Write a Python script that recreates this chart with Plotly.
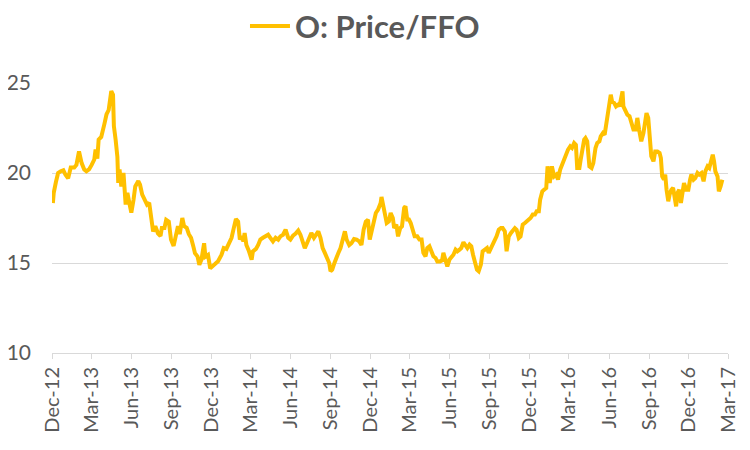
import plotly.graph_objects as go

# O: Price/FFO
dates = [
    "2012-12-03", "2012-12-05", "2012-12-10", "2012-12-15", "2012-12-21", "2012-12-27",
    "2013-01-01", "2013-01-07", "2013-01-13", "2013-01-21", "2013-01-26", "2013-02-01",
    "2013-02-07", "2013-02-13", "2013-02-18", "2013-02-24", "2013-03-02", "2013-03-08",
    "2013-03-11", "2013-03-15", "2013-03-18", "2013-03-24", "2013-03-31", "2013-04-05",
    "2013-04-10", "2013-04-13", "2013-04-16", "2013-04-20", "2013-04-22", "2013-04-26",
    "2013-04-30", "2013-05-02", "2013-05-05", "2013-05-09", "2013-05-14", "2013-05-19",
    "2013-05-23", "2013-05-29", "2013-06-01", "2013-06-06", "2013-06-10", "2013-06-17",
    "2013-06-21", "2013-06-26", "2013-07-02", "2013-07-07", "2013-07-12", "2013-07-16",
    "2013-07-21", "2013-07-26", "2013-08-01", "2013-08-07", "2013-08-10", "2013-08-16",
    "2013-08-20", "2013-08-26", "2013-08-31", "2013-09-06", "2013-09-10", "2013-09-16",
    "2013-09-20", "2013-09-26", "2013-09-30", "2013-10-06", "2013-10-11", "2013-10-16",
    "2013-10-21", "2013-10-25", "2013-10-31", "2013-11-04", "2013-11-09", "2013-11-15",
    "2013-11-18", "2013-11-24", "2013-11-29",
    "2013-12-03", "2013-12-10", "2013-12-17", "2013-12-25", "2013-12-30", "2014-01-05",
    "2014-01-11", "2014-01-17", "2014-01-22", "2014-01-27", "2014-02-01", "2014-02-05",
    "2014-02-09", "2014-02-13", "2014-02-16", "2014-02-20", "2014-02-26", "2014-03-04",
    "2014-03-07", "2014-03-14", "2014-03-19", "2014-03-24", "2014-03-30", "2014-04-06",
    "2014-04-11", "2014-04-16", "2014-04-22", "2014-04-28", "2014-05-04", "2014-05-09",
    "2014-05-15", "2014-05-21", "2014-05-27", "2014-06-01", "2014-06-07", "2014-06-13",
    "2014-06-19", "2014-06-24", "2014-06-29", "2014-07-04", "2014-07-09", "2014-07-14",
    "2014-07-19", "2014-07-25", "2014-07-29", "2014-08-04", "2014-08-09", "2014-08-14",
    "2014-08-19", "2014-08-25", "2014-08-29", "2014-09-01", "2014-09-05", "2014-09-10",
    "2014-09-15", "2014-09-19", "2014-09-24", "2014-09-28", "2014-10-04", "2014-10-08",
    "2014-10-14", "2014-10-19", "2014-10-25", "2014-10-31", "2014-11-06", "2014-11-11",
    "2014-11-16", "2014-11-21", "2014-11-26", "2014-11-30", "2014-12-05", "2014-12-09",
    "2014-12-14", "2014-12-19", "2014-12-25",
    "2014-12-27", "2014-12-31", "2015-01-04", "2015-01-08", "2015-01-13", "2015-01-17",
    "2015-01-22", "2015-01-25", "2015-01-30", "2015-02-03", "2015-02-08", "2015-02-12",
    "2015-02-17", "2015-02-20", "2015-02-24", "2015-02-28", "2015-03-04", "2015-03-09",
    "2015-03-13", "2015-03-19", "2015-03-24", "2015-03-29", "2015-04-02", "2015-04-07",
    "2015-04-11", "2015-04-16", "2015-04-21", "2015-04-25", "2015-04-30", "2015-05-04",
    "2015-05-10", "2015-05-15", "2015-05-18", "2015-05-23", "2015-05-27", "2015-06-01",
    "2015-06-05", "2015-06-10", "2015-06-15", "2015-06-19", "2015-06-24", "2015-06-28",
    "2015-07-03", "2015-07-08", "2015-07-12", "2015-07-17", "2015-07-21", "2015-07-25",
    "2015-07-29", "2015-08-03", "2015-08-07", "2015-08-12", "2015-08-16", "2015-08-21",
    "2015-08-26", "2015-08-30", "2015-09-04", "2015-09-08", "2015-09-13", "2015-09-17",
    "2015-09-22", "2015-09-27", "2015-10-01", "2015-10-06", "2015-10-10", "2015-10-15",
    "2015-10-20", "2015-10-24", "2015-10-29", "2015-11-02", "2015-11-07", "2015-11-11",
    "2015-11-16", "2015-11-21", "2015-11-25", "2015-11-30", "2015-12-04", "2015-12-09",
    "2015-12-14", "2015-12-18", "2015-12-23", "2015-12-26", "2015-12-31", "2016-01-04",
    "2016-01-09", "2016-01-12", "2016-01-17",
    "2016-01-22", "2016-01-27", "2016-02-01", "2016-02-05", "2016-02-10", "2016-02-14",
    "2016-02-19", "2016-02-23", "2016-02-28", "2016-03-04", "2016-03-08", "2016-03-13",
    "2016-03-17", "2016-03-20", "2016-03-25", "2016-03-28", "2016-04-02", "2016-04-05",
    "2016-04-08", "2016-04-12", "2016-04-17", "2016-04-22", "2016-04-26", "2016-05-01",
    "2016-05-05", "2016-05-10", "2016-05-13", "2016-05-18", "2016-05-22", "2016-05-26",
    "2016-05-30", "2016-06-02", "2016-06-05", "2016-06-08", "2016-06-13", "2016-06-17",
    "2016-06-22", "2016-06-25", "2016-06-28", "2016-07-02", "2016-07-04", "2016-07-09",
    "2016-07-13", "2016-07-18", "2016-07-22", "2016-07-27", "2016-08-01", "2016-08-05",
    "2016-08-09", "2016-08-14", "2016-08-19", "2016-08-22", "2016-08-26", "2016-08-30",
    "2016-09-02", "2016-09-06", "2016-09-11", "2016-09-15", "2016-09-20", "2016-09-25",
    "2016-09-28", "2016-10-01", "2016-10-05", "2016-10-08", "2016-10-11", "2016-10-15",
    "2016-10-18", "2016-10-22", "2016-10-26", "2016-10-30", "2016-11-02", "2016-11-05",
    "2016-11-09", "2016-11-13", "2016-11-16", "2016-11-20", "2016-11-25", "2016-11-30",
    "2016-12-04", "2016-12-07", "2016-12-12", "2016-12-16", "2016-12-21", "2016-12-25",
    "2016-12-30", "2017-01-04", "2017-01-08", "2017-01-13", "2017-01-17", "2017-01-20",
    "2017-01-25", "2017-01-28", "2017-01-31", "2017-02-05", "2017-02-08", "2017-02-12",
    "2017-02-16",
]

price_ffo = [
    18.33, 18.9, 19.5, 20.0, 20.1, 20.15,
    19.9, 19.7, 20.3, 20.3, 20.45, 21.2,
    20.55, 20.2, 20.1, 20.2, 20.45, 20.75,
    21.3, 20.8, 21.85, 22.0, 22.7, 23.25,
    23.5, 24.1, 24.55, 24.35, 22.6, 21.85,
    20.9, 19.45, 20.2, 19.25, 20.0, 18.25,
    18.9, 18.15, 17.8, 18.5, 19.25, 19.55,
    19.35, 18.8, 18.5, 18.25, 18.35, 17.4,
    16.75, 17.05, 16.65, 16.5, 16.95, 16.95,
    17.4, 17.3, 16.3, 15.95, 16.5, 17.05,
    16.6, 17.5, 17.05, 16.95, 16.6, 16.4,
    15.95, 15.55, 15.35, 14.9, 15.2, 16.1,
    15.35, 15.45, 14.7,
    14.8, 15.0, 15.1, 15.46, 15.83, 15.78,
    16.1, 16.4, 16.94, 17.44, 17.3, 16.3,
    16.5, 16.2, 16.67, 16.0, 15.65, 15.19,
    15.65, 15.78, 16.0, 16.3, 16.4, 16.48,
    16.57, 16.4, 16.2, 16.4, 16.3, 16.48,
    16.57, 16.85, 16.4, 16.3, 16.52, 16.63,
    16.8, 16.57, 16.2, 15.83, 16.1, 16.4,
    16.67, 16.4, 16.57, 16.76, 16.4, 15.83,
    15.56, 15.19, 15.0, 14.54, 14.63, 15.0,
    15.37, 15.56, 15.83, 16.3, 16.76, 16.3,
    16.0, 16.1, 16.33, 16.3, 16.2, 16.0,
    16.85, 17.3, 17.4, 16.3, 16.76, 17.2,
    17.78, 17.96, 18.33,
    18.67, 18.24, 17.87, 17.22, 17.31, 17.78,
    17.5, 16.94, 17.13, 16.48, 16.94, 17.04,
    18.06, 18.15, 17.41, 17.41, 17.22, 16.76,
    16.48, 16.48, 16.3, 16.3, 15.56, 15.37,
    15.83, 15.93, 15.65, 15.37, 15.28, 15.09,
    15.09, 15.15, 15.56, 15.0, 14.81, 15.19,
    15.28, 15.46, 15.74, 15.65, 15.74, 15.83,
    16.15, 15.93, 15.83, 16.02, 15.93, 15.46,
    15.0, 14.63, 14.54, 14.91, 15.65, 15.74,
    15.83, 15.56, 15.83, 15.93, 16.3, 16.48,
    16.85, 16.94, 16.94, 16.76, 15.65, 16.48,
    16.67, 16.76, 16.94, 16.85, 16.39, 16.48,
    17.13, 17.22, 17.31, 17.41, 17.5, 17.69,
    17.69, 17.87, 17.87, 18.52, 18.98, 19.07,
    19.17, 20.37, 19.44,
    20.37, 19.81, 19.91, 19.63, 20.19, 20.46,
    20.83, 21.02, 21.3, 21.48, 21.39, 21.67,
    21.57, 20.28, 20.28, 20.74, 21.67, 21.85,
    21.94, 21.76, 20.37, 20.28, 20.56, 21.39,
    21.67, 21.76, 22.04, 22.22, 22.13, 22.78,
    23.7, 24.17, 24.35, 23.98, 23.89, 23.7,
    23.8, 23.7, 24.17, 24.54, 23.7, 23.43,
    23.24, 23.15, 22.78, 22.41, 22.41, 23.06,
    22.41, 21.76, 22.22, 22.87, 23.33, 23.06,
    22.13, 20.93, 20.65, 21.2, 21.2, 21.11,
    20.83, 19.81, 19.63, 19.91, 19.07, 18.43,
    18.8, 19.07, 19.17, 18.52, 18.15, 18.89,
    19.07, 18.33, 18.8, 19.44, 19.07, 19.07,
    19.63, 19.91, 19.63, 19.72, 20.0, 19.91,
    20.0, 19.54, 20.09, 20.37, 20.28, 20.56,
    21.02, 20.65, 20.09, 19.81, 18.98, 19.26,
    19.63,
]

# quarterly tick positions (labels come from tickformat)
tick_dates = [
    "2012-12-01", "2013-03-01", "2013-06-01", "2013-09-01", "2013-12-01",
    "2014-03-01", "2014-06-01", "2014-09-01", "2014-12-01", "2015-03-01",
    "2015-06-01", "2015-09-01", "2015-12-01", "2016-03-01", "2016-06-01",
    "2016-09-01", "2016-12-01", "2017-03-01",
]
y_ticks = [10, 15, 20, 25]

GOLD = "#FFC000"
GREY_TEXT = "#595959"
GRID = "#D9D9D9"

fig = go.Figure()
fig.add_trace(go.Scatter(
    x=dates,
    y=price_ffo,
    mode="lines",
    name="O: Price/FFO",
    line=dict(color=GOLD, width=4),
))

# page body has an 8px margin, so the figure is sized to fit inside it
fig.update_layout(
    width=734,
    height=434,
    margin=dict(l=44, r=14, t=75, b=89, autoexpand=False),
    paper_bgcolor="white",
    plot_bgcolor="white",
    font=dict(family="Lato", color=GREY_TEXT),
    showlegend=True,
    legend=dict(
        orientation="h",
        x=0.463, xanchor="center",
        y=1.21, yanchor="middle",
        font=dict(family="Lato", size=31, color=GREY_TEXT, weight="bold"),
        itemwidth=40,
    ),
)

fig.update_xaxes(
    type="date",
    range=["2012-12-01", "2017-03-01"],
    tickvals=tick_dates,
    tickformat="%b-%y",
    tickangle=-90,
    tickfont=dict(family="Lato", size=20, color=GREY_TEXT),
    ticks="outside",
    ticklen=5,
    tickcolor=GRID,
    showline=True,
    linecolor=GRID,
    linewidth=1,
    showgrid=False,
    zeroline=False,
    automargin=False,
)
fig.update_yaxes(
    range=[10, 25],
    tickvals=y_ticks,
    tickfont=dict(family="Lato", size=21, color=GREY_TEXT),
    ticklabelstandoff=20,
    showgrid=True,
    gridcolor=GRID,
    gridwidth=1,
    showline=False,
    zeroline=False,
    ticks="",
    automargin=False,
)

fig.write_html("out.html")
